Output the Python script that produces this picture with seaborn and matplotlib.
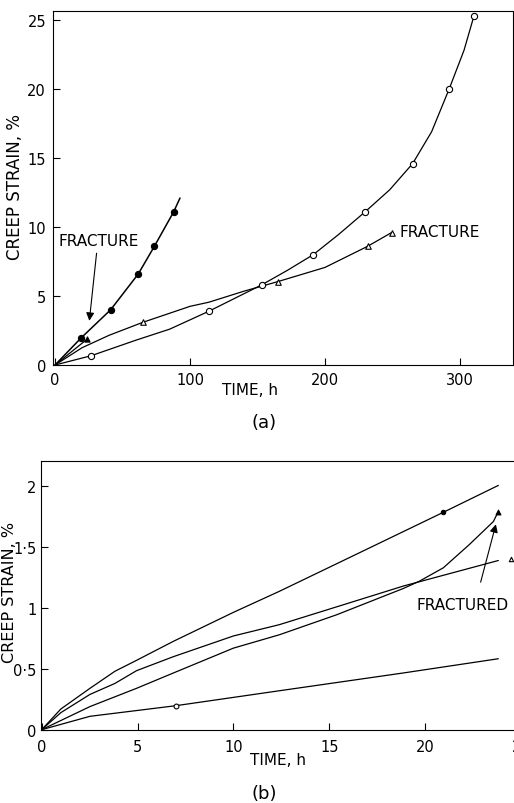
import numpy as np
import pandas as pd
import seaborn as sns
import matplotlib.pyplot as plt

# ---- panel (a): creep strain (%) vs time (h) ----
# filled circles
a_fc_t = [0, 19.3, 41.2, 61.7, 73.6, 87.9, 92.6]
a_fc_y = [0, 1.96, 4.0, 6.6, 8.6, 11.1, 12.1]
a_fc_mark_t = [19.3, 41.2, 61.7, 73.6, 87.9]
a_fc_mark_y = [1.96, 4.0, 6.6, 8.6, 11.1]
# filled triangle (short test)
a_ft_t = [0, 23.5]
a_ft_y = [0, 1.85]
# open triangles
a_ot_t = [0, 20, 40, 65, 100, 114, 140, 165, 200, 231.6, 249.4]
a_ot_y = [0, 1.25, 2.15, 3.09, 4.25, 4.55, 5.35, 6.04, 7.07, 8.6, 9.6]
a_ot_mark_t = [65, 165, 231.6, 249.4]
a_ot_mark_y = [3.09, 6.04, 8.6, 9.6]
# open circles
a_oc_t = [0, 26.7, 60, 85, 114.3, 153, 172, 191.4, 210, 229.4, 248, 265, 279, 292, 303, 310.4]
a_oc_y = [0, 0.67, 1.8, 2.6, 3.91, 5.8, 6.85, 8.0, 9.45, 11.07, 12.7, 14.6, 16.9, 20.0, 22.8, 25.3]
a_oc_mark_t = [26.7, 114.3, 153, 191.4, 229.4, 265, 292, 310.4]
a_oc_mark_y = [0.67, 3.91, 5.8, 8.0, 11.07, 14.6, 20.0, 25.3]

# ---- panel (b) ----
b_a_t = [0, 1, 2.52, 3.82, 4.95, 6.87, 10.0, 12.4, 16, 20.95, 23.82]
b_a_y = [0, 0.17, 0.34, 0.48, 0.57, 0.726, 0.964, 1.137, 1.41, 1.786, 2.007]
b_b_t = [0, 1, 2.52, 3.82, 4.95, 6.87, 10.0, 12.4, 15.4, 18.86, 23.82]
b_b_y = [0, 0.14, 0.29, 0.38, 0.485, 0.60, 0.77, 0.863, 1.01, 1.18, 1.39]
b_c_t = [0, 2.52, 4.95, 6.87, 10.0, 12.4, 15.4, 18.86, 19.7, 20.95, 22.3, 23.56, 23.8]
b_c_y = [0, 0.19, 0.34, 0.466, 0.67, 0.78, 0.945, 1.16, 1.22, 1.33, 1.52, 1.71, 1.786]
b_d_t = [0, 2.52, 6.99, 12.4, 18.86, 23.82]
b_d_y = [0, 0.11, 0.197, 0.32, 0.466, 0.583]
b_fc = (20.95, 1.786)
b_ft = (23.8, 1.786)
b_ot = (24.47, 1.40)
b_oc = (6.99, 0.197)

a_xticks = [0, 100, 200, 300]
a_yticks = [0, 5, 10, 15, 20, 25]
b_xticks = [0, 5, 10, 15, 20, 25]
b_yticks = [0, 0.5, 1, 1.5, 2]
b_yticklabels = ["0", "0·5", "1", "1·5", "2"]

sns.set_theme(style="ticks")
plt.rcParams["font.family"] = ["DejaVu Sans"]
plt.rcParams["text.color"] = "black"
plt.rcParams["axes.edgecolor"] = "black"
plt.rcParams["axes.linewidth"] = 0.8

W, H = 514, 804
fig = plt.figure(figsize=(W / 100, H / 100), dpi=100)


def box(l, t, r, b):
    return [l / W, 1 - b / H, (r - l) / W, (b - t) / H]


def px(x, y):
    return x / W, 1 - y / H


def curve(ax, t, y, lw=0.9):
    sns.lineplot(x=t, y=y, ax=ax, color="black", lw=lw, estimator=None, sort=False)


def pts(ax, t, y, marker, filled, s):
    sns.scatterplot(x=t, y=y, ax=ax, marker=marker, s=s,
                    color="black" if filled else "white",
                    edgecolor="black", linewidth=0.8, zorder=3)


ax_a = fig.add_axes(box(53, 12, 513, 366))
ax_b = fig.add_axes(box(40.7, 461.7, 524.8, 730.7))

# panel a
curve(ax_a, a_fc_t, a_fc_y, lw=1.1)
curve(ax_a, a_ft_t, a_ft_y)
curve(ax_a, a_ot_t, a_ot_y)
curve(ax_a, a_oc_t, a_oc_y)
pts(ax_a, a_fc_mark_t, a_fc_mark_y, "o", True, 20)
pts(ax_a, [a_ft_t[-1]], [a_ft_y[-1]], "^", True, 14)
pts(ax_a, a_ot_mark_t, a_ot_mark_y, "^", False, 16)
pts(ax_a, a_oc_mark_t, a_oc_mark_y, "o", False, 20)

ax_a.text(2.5, 9.0, "FRACTURE", fontsize=11, va="center", ha="left", color="black")
ax_a.annotate("", xy=(25.2, 3.0), xytext=(31, 8.3),
              arrowprops=dict(arrowstyle="-|>", color="black", lw=0.8,
                              mutation_scale=12))
ax_a.text(255, 9.7, "FRACTURE", fontsize=11, va="center", ha="left", color="black")

ax_a.set_xlim(-1.5, 339.3)
ax_a.set_ylim(0, 25.65)
ax_a.set_xticks(a_xticks)
ax_a.set_yticks(a_yticks)
ax_a.tick_params(direction="in", length=5, width=0.8, labelsize=10.5, colors="black")
ax_a.tick_params(axis="x", pad=5)
ax_a.tick_params(axis="y", pad=5)

# panel b
curve(ax_b, b_a_t, b_a_y)
curve(ax_b, b_b_t, b_b_y)
curve(ax_b, b_c_t, b_c_y)
curve(ax_b, b_d_t, b_d_y)
pts(ax_b, [b_fc[0]], [b_fc[1]], "o", True, 10)
pts(ax_b, [b_ft[0]], [b_ft[1]], "^", True, 12)
pts(ax_b, [b_ot[0]], [b_ot[1]], "^", False, 10)
pts(ax_b, [b_oc[0]], [b_oc[1]], "o", False, 12)

ax_b.text(19.56, 1.03, "FRACTURED", fontsize=11, va="center", ha="left", color="black")
ax_b.annotate("", xy=(23.73, 1.71), xytext=(22.86, 1.19),
              arrowprops=dict(arrowstyle="-|>", color="black", lw=0.8,
                              mutation_scale=12))

ax_b.set_xlim(-0.05, 25.2)
ax_b.set_ylim(0, 2.21)
ax_b.set_xticks(b_xticks)
ax_b.set_yticks(b_yticks)
ax_b.set_yticklabels(b_yticklabels)
ax_b.tick_params(direction="in", length=5, width=0.8, labelsize=10.5, colors="black")
ax_b.tick_params(axis="x", pad=7)
ax_b.tick_params(axis="y", pad=3)

for ax in (ax_a, ax_b):
    ax.set_xlabel("")
    ax.set_ylabel("")
    for sp in ax.spines.values():
        sp.set_visible(True)
        sp.set_color("black")
        sp.set_linewidth(0.8)

# labels
fig.text(*px(250, 391), "TIME, h", fontsize=11, ha="center", va="center")
fig.text(*px(15, 187), "CREEP STRAIN, %", fontsize=12, ha="center", va="center", rotation=90)
fig.text(*px(264, 423), "(a)", fontsize=13, ha="center", va="center")
fig.text(*px(278, 761), "TIME, h", fontsize=11, ha="center", va="center")
fig.text(*px(10, 592), "CREEP STRAIN, %", fontsize=11.5, ha="center", va="center", rotation=90)
fig.text(*px(264, 794), "(b)", fontsize=13, ha="center", va="center")

fig.savefig("out.png", dpi=100)
